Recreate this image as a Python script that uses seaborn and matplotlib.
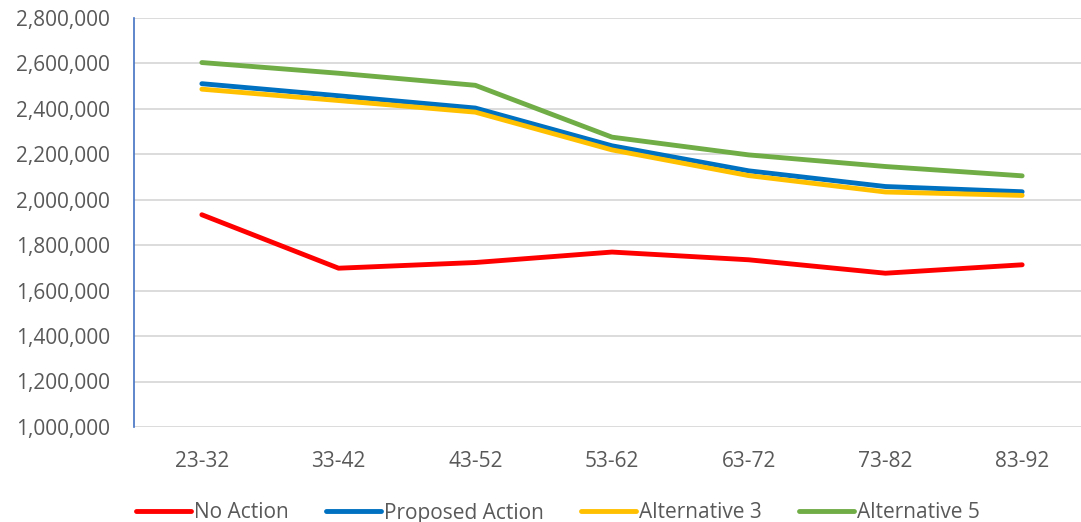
import matplotlib
matplotlib.use("Agg")
import matplotlib.pyplot as plt
import matplotlib.ticker as mticker
import pandas as pd
import seaborn as sns

periods = ["23-32", "33-42", "43-52", "53-62", "63-72", "73-82", "83-92"]
no_action = [1933000, 1698000, 1723000, 1769000, 1735000, 1676000, 1713000]
proposed_action = [2509000, 2456000, 2402000, 2236000, 2126000, 2057000, 2034000]
alternative_3 = [2485000, 2435000, 2384000, 2218000, 2105000, 2033000, 2018000]
alternative_5 = [2602000, 2555000, 2502000, 2274000, 2196000, 2145000, 2104000]

series_names = ["No Action", "Proposed Action", "Alternative 3", "Alternative 5"]
series_values = [no_action, proposed_action, alternative_3, alternative_5]
colors = ["#FF0000", "#0070C0", "#FFC000", "#70AD47"]

rows = []
for name, vals in zip(series_names, series_values):
    for i, (p, v) in enumerate(zip(periods, vals)):
        rows.append({"period": p, "pos": i, "value": v, "series": name})
df = pd.DataFrame(rows)

sns.set_theme(style="white")
plt.rcParams["font.family"] = ["Open Sans", "DejaVu Sans"]

fig = plt.figure(figsize=(10.81, 5.22), dpi=100)
ax = fig.add_axes([133.5 / 1081, 95 / 522, 957 / 1081, 409.5 / 522])

sns.lineplot(data=df, x="pos", y="value", hue="series", hue_order=series_names,
             palette=colors, linewidth=3.5, ax=ax, legend=True,
             solid_capstyle="round", solid_joinstyle="round")

ax.set_xlim(-0.5, len(periods) - 0.5)
ax.set_ylim(1000000, 2800000)
ax.set_xticks(range(len(periods)))
ax.set_xticklabels(periods)
ax.yaxis.set_major_locator(mticker.MultipleLocator(200000))
ax.yaxis.set_major_formatter(mticker.FuncFormatter(lambda v, _: f"{int(v):,}"))
ax.grid(axis="y", color="#D9D9D9", linewidth=1.3)
ax.set_axisbelow(True)
ax.set_xlabel("")
ax.set_ylabel("")
for s in ["top", "right", "bottom"]:
    ax.spines[s].set_visible(False)
ax.spines["left"].set_color("#4472C4")
ax.spines["left"].set_linewidth(1.2)
ax.tick_params(axis="both", length=0, labelsize=15, colors="#595959")
ax.tick_params(axis="y", pad=17)
ax.tick_params(axis="x", pad=17)

handles, labels = ax.get_legend_handles_labels()
if ax.get_legend():
    ax.get_legend().remove()
leg = fig.legend(handles, labels, loc="center left",
                 bbox_to_anchor=(136 / 1081, 9 / 522),
                 ncol=4, frameon=False, fontsize=15,
                 handlelength=2.65, handletextpad=0.12, columnspacing=1.8,
                 borderaxespad=0, borderpad=0)
for t in leg.get_texts():
    t.set_color("#595959")
for h in leg.get_lines():
    h.set_solid_capstyle("round")

fig.savefig("out.png", dpi=100)
